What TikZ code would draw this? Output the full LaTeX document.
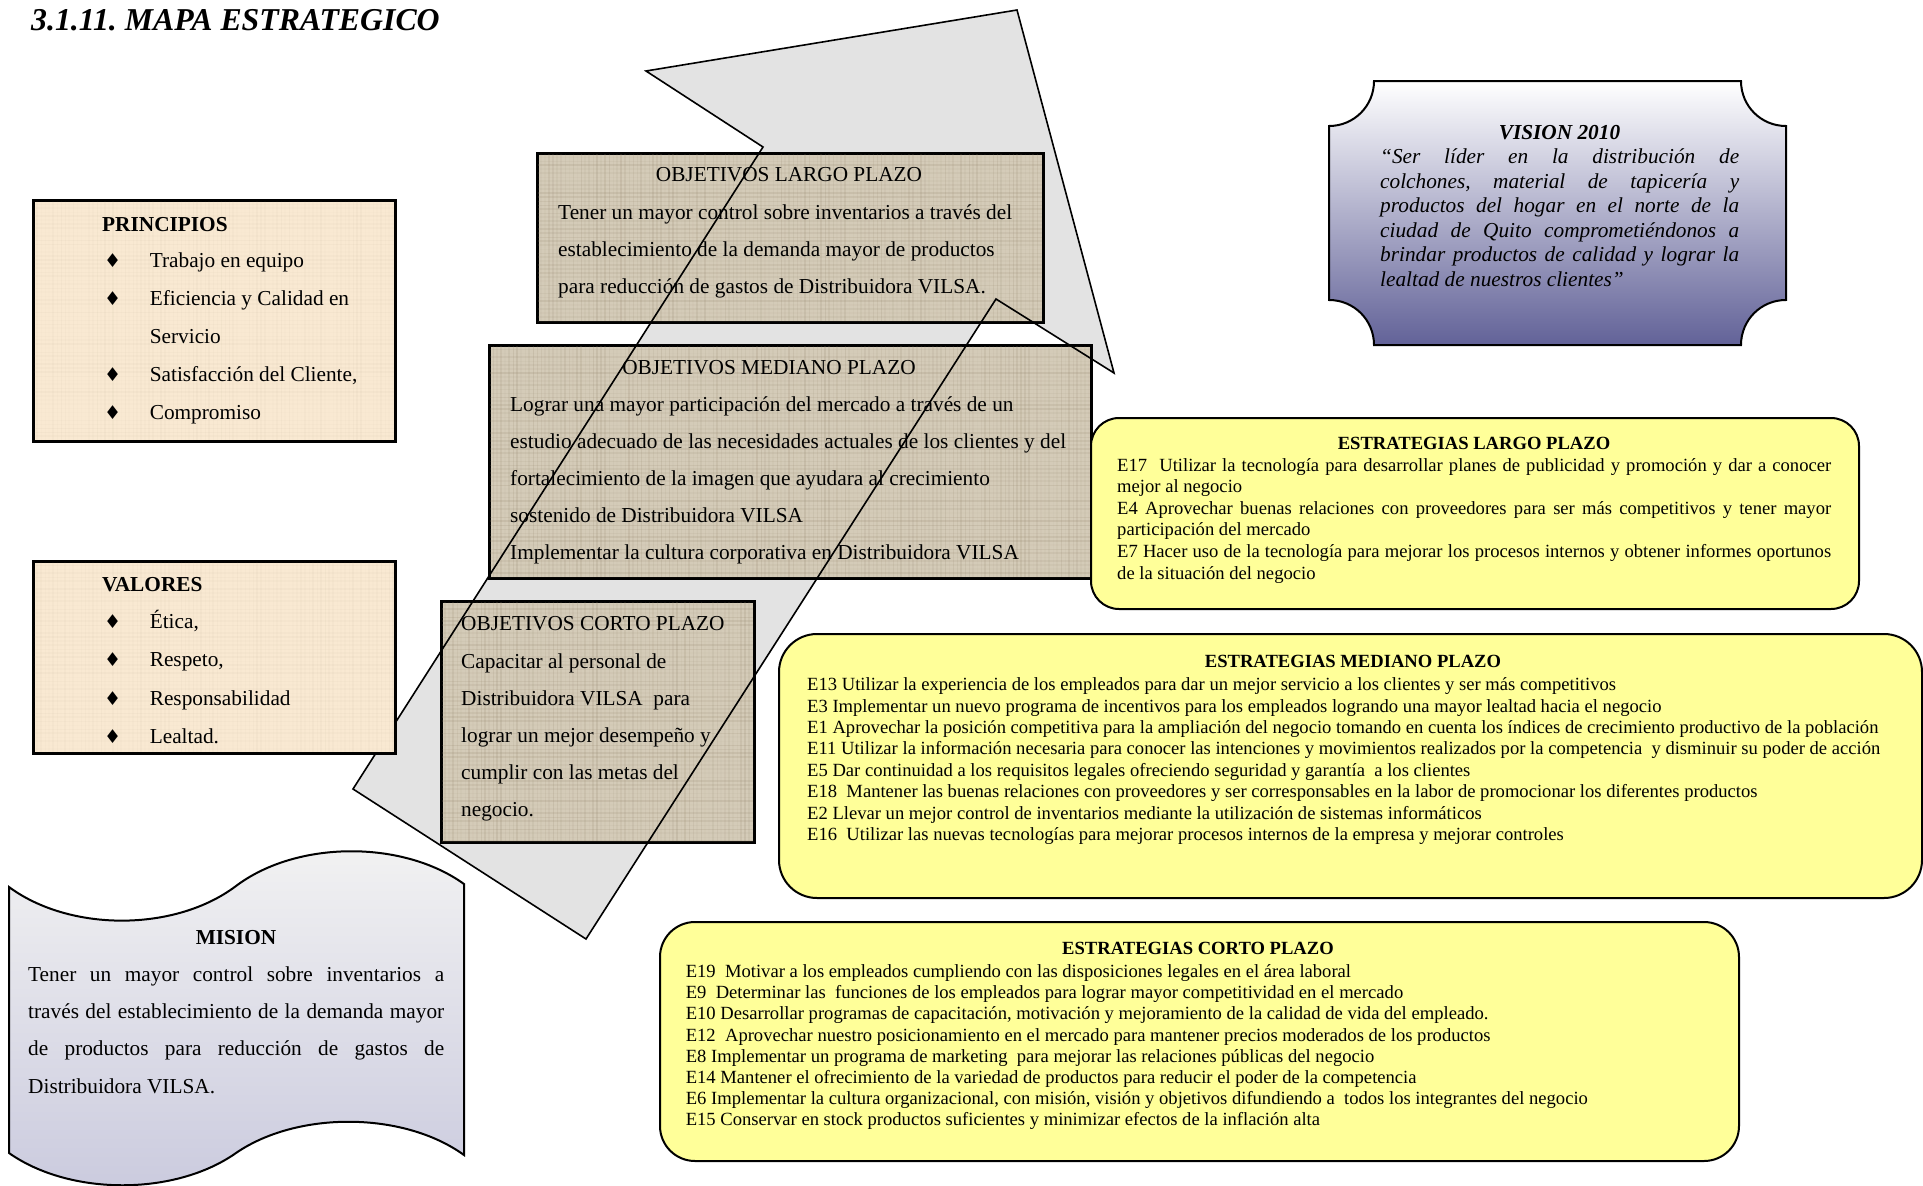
\documentclass[tikz,border=0pt]{standalone}
\usepackage{fontspec}
\setmainfont{Liberation Serif}
\newfontfamily\bulletfont{DejaVu Sans}
\frenchspacing

\definecolor{peach}{RGB}{249,233,210}
\definecolor{burlap}{RGB}{212,203,184}
\definecolor{weft}{RGB}{150,135,110}
\definecolor{arrowgray}{RGB}{227,227,227}
\definecolor{notey}{RGB}{255,255,153}
\definecolor{slate}{RGB}{98,98,152}
\definecolor{lilac}{RGB}{202,202,222}

% font size / baseline skip
\newcommand\sz[2]{\fontsize{#1}{#2}\selectfont}
% one justified line of a given width
\newcommand\jline[2]{\makebox[#1][s]{#2}}
% bullet item with a hanging diamond
\newcommand\bitem[1]{\makebox[45.6pt][l]{\bulletfont\fontsize{19}{19}\selectfont ♦}#1}

% woven texture inside a rectangle: x0,y0,x1,y1,opacity scale
\newcommand\burlapweave[5]{%
  \begin{scope}
    \clip (#1,#2) rectangle (#3,#4);
    \foreach \k in {0,...,150}{
      \pgfmathsetmacro\op{#5*(0.03+0.22*rnd)}
      \pgfmathsetmacro\lw{0.5+1.2*rnd}
      \draw[weft, line width=\lw pt, opacity=\op] ({#1+4*\k},#2) -- ({#1+4*\k},#4);
    }
    \foreach \k in {0,...,62}{
      \pgfmathsetmacro\op{#5*(0.03+0.22*rnd)}
      \pgfmathsetmacro\lw{0.5+1.2*rnd}
      \draw[weft, line width=\lw pt, opacity=\op] (#1,{#2+4*\k}) -- (#3,{#2+4*\k});
    }
  \end{scope}}

\tikzset{
  panel/.style={draw=black, line width=2pt, inner sep=0pt, anchor=north west, rectangle},
  peachbox/.style={panel, fill=peach},
  burlapbox/.style={panel, fill=burlap},
  stratbox/.style={panel, fill=notey, rounded corners=#1},
  txt/.style={anchor=base west, inner sep=0pt},
  ctxt/.style={anchor=base, inner sep=0pt},
  outline/.style={draw=black, line width=1.6pt, line join=miter},
}

\begin{document}
\begin{tikzpicture}[x=1pt,y=-1pt]
\pgfmathsetseed{7}
\useasboundingbox (0,0) rectangle (1923,1186);
\fill[white] (0,0) rectangle (1923,1186);

% heading
\node[txt] (heading) at (31,30) {\sz{31.8}{38}\bfseries\itshape 3.1.11. MAPA ESTRATEGICO};

% ---------------- big bent arrow ----------------
\coordinate (a1) at (646,71);
\coordinate (a2) at (1017,10);
\coordinate (a3) at (1114,373);
\coordinate (a4) at (996,299);
\coordinate (a5) at (586,939);
\coordinate (a6) at (353,789);
\coordinate (a7) at (763,147);
\fill[arrowgray] (a1) -- (a2) -- (a3) -- (a4) -- (a5) -- (a6) -- (a7) -- cycle;

% ---------------- objectives ----------------
\node[burlapbox, minimum width=505pt, minimum height=168pt] (objL) at (537,153) {};
\burlapweave{537}{153}{1042}{321}{0.8}
\node[burlapbox, minimum width=601pt, minimum height=232pt] (objM) at (489,345) {};
\burlapweave{489}{345}{1090}{577}{0.8}
\node[burlapbox, minimum width=312pt, minimum height=240pt] (objC) at (441,601) {};
\burlapweave{441}{601}{753}{841}{0.8}
\draw[black, line width=2.2pt] (objL.south west) rectangle (objL.north east);
\draw[black, line width=2.2pt] (objM.south west) rectangle (objM.north east);
\draw[black, line width=2.2pt] (objC.south west) rectangle (objC.north east);

% arrow outline over the objective boxes
\draw[outline] (a1) -- (a2) -- (a3) -- (a4) -- (a5) -- (a6) -- (a7) -- cycle;

\node[ctxt] (objLT) at (789,181.5) {\sz{21.3}{37}OBJETIVOS LARGO PLAZO};
\node[txt] (objLL) at (558,219.5) {\parbox[t]{900pt}{\sz{21.3}{37}%
Tener un mayor control sobre inventarios a través del\\
establecimiento de la demanda mayor de productos\\
para reducción de gastos de Distribuidora VILSA.}};

\node[ctxt] (objMT) at (769,374.4) {\sz{21.3}{37}OBJETIVOS MEDIANO PLAZO};
\node[txt] (objML) at (510,411.2) {\parbox[t]{900pt}{\sz{21.3}{37.1}%
Lograr una mayor participación del mercado a través de un\\
estudio adecuado de las necesidades actuales de los clientes y del\\
fortalecimiento de la imagen que ayudara al crecimiento\\
sostenido de Distribuidora VILSA\\
Implementar la cultura corporativa en Distribuidora VILSA}};

\node[txt] (objCT) at (461,630.7) {\sz{21.3}{37}OBJETIVOS CORTO PLAZO};
\node[txt] (objCL) at (461,668.8) {\parbox[t]{900pt}{\sz{21.3}{36.8}%
Capacitar al personal de\\
Distribuidora VILSA\ \ para\\
lograr un mejor desempeño y\\
cumplir con las metas del\\
negocio.}};

% ---------------- principles and values ----------------
\node[peachbox, minimum width=361pt, minimum height=240pt] (princ) at (33,200) {};
\burlapweave{33}{200}{394}{440}{0.2}
\draw[black, line width=2pt] (princ.south west) rectangle (princ.north east);
\node[txt] (princT) at (102,231) {\sz{21.3}{38}\bfseries PRINCIPIOS};
\node[txt] (princL) at (104,267.7) {\parbox[t]{900pt}{\sz{21.3}{38}%
\bitem{Trabajo en equipo}\\
\bitem{Eficiencia y Calidad en}\\
\hspace*{45.6pt}Servicio\\
\bitem{Satisfacción del Cliente,}\\
\bitem{Compromiso}}};

\node[peachbox, minimum width=361pt, minimum height=191pt] (valo) at (33,561) {};
\burlapweave{33}{561}{394}{752}{0.2}
\draw[black, line width=2pt] (valo.south west) rectangle (valo.north east);
\node[txt] (valoT) at (102,591.5) {\sz{21.3}{38}\bfseries VALORES};
\node[txt] (valoL) at (104,628.3) {\parbox[t]{900pt}{\sz{21.3}{38.4}%
\bitem{Ética,}\\
\bitem{Respeto,}\\
\bitem{Responsabilidad}\\
\bitem{Lealtad.}}};

% ---------------- mission (tape shape) ----------------
\coordinate (m1) at (9,887);
\coordinate (m2) at (236,886);
\coordinate (m3) at (464,884);
\coordinate (m4) at (464,1155);
\coordinate (m5) at (236,1153);
\coordinate (m6) at (9,1153);
\path[draw=black, line width=2pt, top color=white!95!black, bottom color=lilac]
  (m1) .. controls (70,932) and (175,932) .. (m2)
       .. controls (297,840) and (403,840) .. (m3)
  -- (m4) .. controls (403,1111) and (297,1111) .. (m5)
       .. controls (175,1196) and (70,1196) .. (m6) -- cycle;
\node[ctxt] (misT) at (236,944.7) {\sz{21.3}{37}\bfseries MISION};
\node[txt] (misL) at (28,981.5) {\parbox[t]{900pt}{\sz{21.3}{37.2}%
\jline{416pt}{Tener un mayor control sobre inventarios a}\\
\jline{416pt}{través del establecimiento de la demanda mayor}\\
\jline{416pt}{de productos para reducción de gastos de}\\
Distribuidora VILSA.}};

% ---------------- vision (plaque shape) ----------------
\path[draw=black, line width=2pt, top color=white, bottom color=slate]
  (1374,81) -- (1741,81)
  .. controls (1741,106) and (1761,126) .. (1786,126)
  -- (1786,300)
  .. controls (1761,300) and (1741,320) .. (1741,345)
  -- (1374,345)
  .. controls (1374,320) and (1354,300) .. (1329,300)
  -- (1329,126)
  .. controls (1354,126) and (1374,106) .. (1374,81) -- cycle;
\node[ctxt] (visT) at (1559.5,139) {\sz{21.3}{24.5}\bfseries\itshape VISION 2010};
\node[txt] (visL) at (1380,163.5) {\parbox[t]{900pt}{\sz{21.3}{24.5}\itshape
\jline{359pt}{“Ser líder en la distribución de}\\
\jline{359pt}{colchones, material de tapicería y}\\
\jline{359pt}{productos del hogar en el norte de la}\\
\jline{359pt}{ciudad de Quito comprometiéndonos a}\\
\jline{359pt}{brindar productos de calidad y lograr la}\\
lealtad de nuestros clientes”}};

% ---------------- strategies ----------------
\node[stratbox=28pt, minimum width=768pt, minimum height=191pt] (estL) at (1090,417) {};
\node[ctxt] (estLT) at (1474,449) {\sz{18.6}{21.6}\bfseries ESTRATEGIAS LARGO PLAZO};
\node[txt] (estLL) at (1117,471) {\parbox[t]{1200pt}{\sz{18.6}{21.6}%
\jline{714pt}{E17\ \ Utilizar la tecnología para desarrollar planes de publicidad y promoción y dar a conocer}\\
mejor al negocio\\
\jline{714pt}{E4 Aprovechar buenas relaciones con proveedores para ser más competitivos y tener mayor}\\
participación del mercado\\
\jline{714pt}{E7 Hacer uso de la tecnología para mejorar los procesos internos y obtener informes oportunos}\\
de la situación del negocio}};

\node[stratbox=38pt, minimum width=1143pt, minimum height=264pt] (estM) at (778,633) {};
\node[ctxt] (estMT) at (1353,667) {\sz{18.6}{21.4}\bfseries ESTRATEGIAS MEDIANO PLAZO};
\node[txt] (estML) at (807,690.6) {\parbox[t]{1200pt}{\sz{18.6}{21.4}%
E13 Utilizar la experiencia de los empleados para dar un mejor servicio a los clientes y ser más competitivos\\
E3 Implementar un nuevo programa de incentivos para los empleados logrando una mayor lealtad hacia el negocio\\
E1 Aprovechar la posición competitiva para la ampliación del negocio tomando en cuenta los índices de crecimiento productivo de la población\\
E11 Utilizar la información necesaria para conocer las intenciones y movimientos realizados por la competencia\ \ y disminuir su poder de acción\\
E5 Dar continuidad a los requisitos legales ofreciendo seguridad y garantía\ \ a los clientes\\
E18\ \ Mantener las buenas relaciones con proveedores y ser corresponsables en la labor de promocionar los diferentes productos\\
E2 Llevar un mejor control de inventarios mediante la utilización de sistemas informáticos\\
E16\ \ Utilizar las nuevas tecnologías para mejorar procesos internos de la empresa y mejorar controles}};

\node[stratbox=35pt, minimum width=1079pt, minimum height=239pt] (estC) at (659,921) {};
\node[ctxt] (estCT) at (1198,954) {\sz{18.6}{21.2}\bfseries ESTRATEGIAS CORTO PLAZO};
\node[txt] (estCL) at (685.6,977.5) {\parbox[t]{1200pt}{\sz{18.6}{21.2}%
E19\ \ Motivar a los empleados cumpliendo con las disposiciones legales en el área laboral\\
E9\ \ Determinar las\ \ funciones de los empleados para lograr mayor competitividad en el mercado\\
E10 Desarrollar programas de capacitación, motivación y mejoramiento de la calidad de vida del empleado.\\
E12\ \ Aprovechar nuestro posicionamiento en el mercado para mantener precios moderados de los productos\\
E8 Implementar un programa de marketing\ \ para mejorar las relaciones públicas del negocio\\
E14 Mantener el ofrecimiento de la variedad de productos para reducir el poder de la competencia\\
E6 Implementar la cultura organizacional, con misión, visión y objetivos difundiendo a\ \ todos los integrantes del negocio\\
E15 Conservar en stock productos suficientes y minimizar efectos de la inflación alta}};

\end{tikzpicture}
\end{document}
